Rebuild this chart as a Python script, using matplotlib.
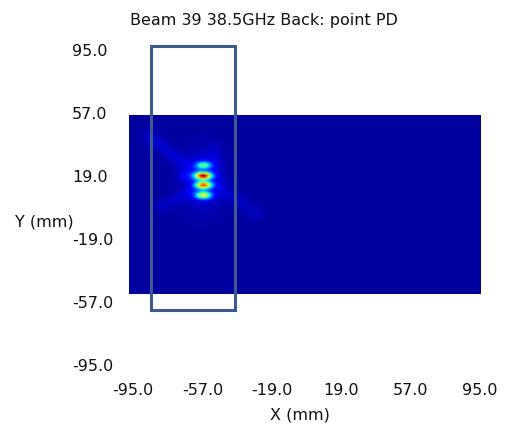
import matplotlib.pyplot as plt
from matplotlib.patches import Rectangle
import numpy as np

# chart text
title = "Beam 39 38.5GHz Back: point PD"
xlabel = "X (mm)"
ylabel = "Y (mm)"
ticks = [-95.0, -57.0, -19.0, 19.0, 57.0, 95.0]
tick_labels = ["-95.0", "-57.0", "-19.0", "19.0", "57.0", "95.0"]

# scanned area (mm)
scan_x = [-97.2, 95.0]
scan_y = [-52.2, 55.2]

# bright spots: x, y, level, sigma x, sigma y
spot_x = [-56.8, -56.8, -56.8, -56.8, -57.0]
spot_y = [25.0, 18.6, 13.0, 6.9, 16.0]
spot_amp = [0.40, 0.86, 0.76, 0.56, 0.09]
spot_sx = [2.9, 3.0, 3.0, 3.0, 7.0]
spot_sy = [1.6, 1.5, 1.5, 1.6, 11.0]

# faint streaks: x0, y0, x1, y1, level, width
streak_x0 = [-86.0, -62.0, -50.0, -51.0, -68.0]
streak_y0 = [42.0, 10.0, 13.0, 36.0, 18.5]
streak_x1 = [-61.0, -80.0, -28.0, -51.0, -60.0]
streak_y1 = [20.0, 0.0, -4.0, 22.0, 18.5]
streak_amp = [0.04, 0.035, 0.03, 0.025, 0.06]
streak_w = [3.0, 2.5, 3.0, 2.5, 1.8]

# PD box
box_x = [-85.1, -39.1]
box_y = [-61.8, 97.4]


def build_map():
    xs = np.arange(scan_x[0], scan_x[1] + 0.5, 1.0)
    ys = np.arange(scan_y[0], scan_y[1] + 0.5, 1.0)
    X, Y = np.meshgrid(xs, ys)
    Z = np.zeros_like(X)
    for cx, cy, a, sx, sy in zip(spot_x, spot_y, spot_amp, spot_sx, spot_sy):
        Z += a * np.exp(-((X - cx) ** 2 / (2 * sx ** 2) + (Y - cy) ** 2 / (2 * sy ** 2)))
    for x0, y0, x1, y1, a, w in zip(streak_x0, streak_y0, streak_x1, streak_y1, streak_amp, streak_w):
        dx, dy = x1 - x0, y1 - y0
        t = np.clip(((X - x0) * dx + (Y - y0) * dy) / (dx * dx + dy * dy), 0, 1)
        d2 = (X - x0 - t * dx) ** 2 + (Y - y0 - t * dy) ** 2
        Z += a * np.exp(-d2 / (2 * w ** 2))
    return Z


txtcol = "#111111"
fig = plt.figure(figsize=(5.05, 4.28), dpi=100)
ax = fig.add_axes([133 / 505, 63 / 428, 347 / 505, 315 / 428])

Z = build_map()
im = ax.imshow(Z, cmap="jet", vmin=-0.03, vmax=1.0, origin="lower",
               extent=[scan_x[0], scan_x[1], scan_y[0], scan_y[1]],
               aspect="auto", interpolation="bilinear")
im.set_clip_on(False)

ax.add_patch(Rectangle((box_x[0], box_y[0]), box_x[1] - box_x[0], box_y[1] - box_y[0],
                       fill=False, edgecolor="#3d5a8e", lw=2.2, clip_on=False))

ax.set_xlim(-95, 95)
ax.set_ylim(-95, 95)
ax.set_xticks(ticks)
ax.set_xticklabels(tick_labels)
ax.set_yticks(ticks)
ax.set_yticklabels(tick_labels, ha="left")
ax.tick_params(axis="both", length=0, labelsize=11.5, labelcolor=txtcol)
ax.tick_params(axis="y", pad=44)
ax.tick_params(axis="x", pad=13)
for s in ax.spines.values():
    s.set_visible(False)

fig.text(264 / 505, 1 - 20 / 428, title, ha="center", va="center", fontsize=11.5, color=txtcol)
fig.text(300 / 505, 1 - 415 / 428, xlabel, ha="center", va="center", fontsize=11.5, color=txtcol)
fig.text(15 / 505, 1 - 222 / 428, ylabel, ha="left", va="center", fontsize=11.5, color=txtcol)

fig.savefig("out.png", dpi=100)
